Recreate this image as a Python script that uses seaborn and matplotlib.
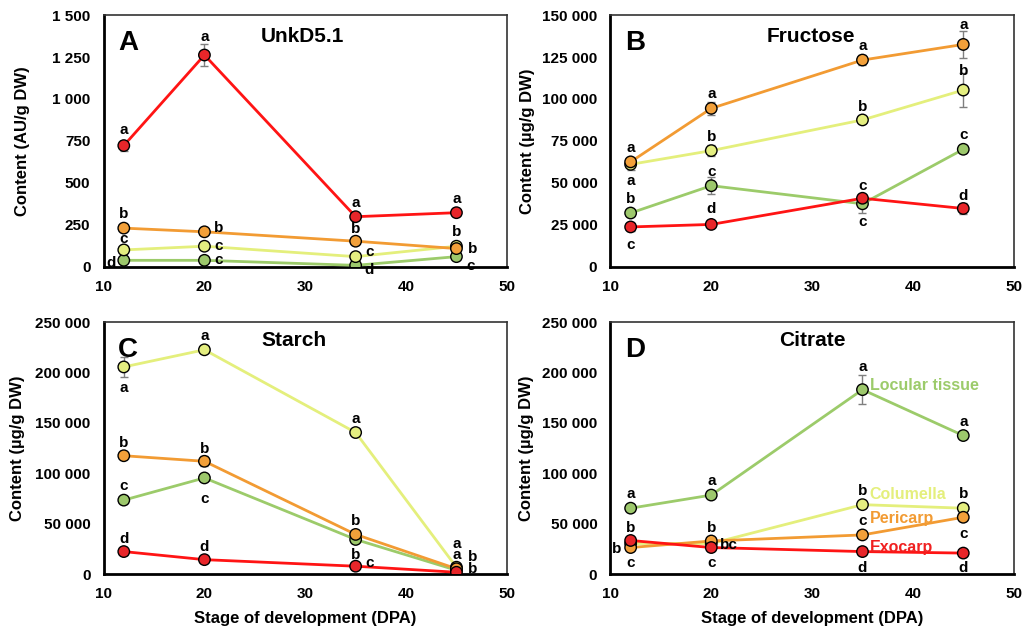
import matplotlib
matplotlib.use("Agg")
import matplotlib.pyplot as plt
import seaborn as sns
import pandas as pd

sns.set_theme(style="white")
plt.rcParams["font.family"] = ["Liberation Sans", "DejaVu Sans"]
plt.rcParams["font.weight"] = "bold"

# ---------------- data ----------------
dpa = [12, 20, 35, 45]
tissues = ["Locular tissue", "Columella", "Pericarp", "Exocarp"]

# A: UnkD5.1 (AU/g DW)
unk_locular = [38, 38, 8, 60]
unk_columella = [100, 122, 60, 122]
unk_pericarp = [230, 208, 152, 108]
unk_exocarp = [722, 1262, 298, 322]
unk_locular_err = [5, 5, 3, 8]
unk_columella_err = [8, 10, 15, 10]
unk_pericarp_err = [10, 10, 12, 10]
unk_exocarp_err = [30, 65, 10, 10]
unk_locular_let = ["d", "c", "d", "c"]
unk_columella_let = ["c", "c", "c", "b"]
unk_pericarp_let = ["b", "b", "b", "b"]
unk_exocarp_let = ["a", "a", "a", "a"]

# B: Fructose (µg/g DW)
fru_locular = [32000, 48300, 37500, 70000]
fru_columella = [61000, 69200, 87500, 105300]
fru_pericarp = [62500, 94400, 123200, 132500]
fru_exocarp = [23700, 25200, 40800, 34700]
fru_locular_err = [2000, 5000, 5500, 2500]
fru_columella_err = [3500, 3500, 2000, 10000]
fru_pericarp_err = [2000, 4000, 3000, 8000]
fru_exocarp_err = [2500, 1500, 2000, 3500]
fru_locular_let = ["b", "c", "c", "c"]
fru_columella_let = ["a", "b", "b", "b"]
fru_pericarp_let = ["a", "a", "a", "a"]
fru_exocarp_let = ["c", "d", "c", "d"]

# C: Starch (µg/g DW)
sta_locular = [73500, 95500, 34500, 4000]
sta_columella = [205500, 222500, 140500, 7000]
sta_pericarp = [117500, 112000, 39500, 5500]
sta_exocarp = [22500, 14500, 8000, 2000]
sta_locular_err = [3000, 3000, 3000, 1000]
sta_columella_err = [9500, 2500, 4500, 1000]
sta_pericarp_err = [2500, 5000, 3000, 1000]
sta_exocarp_err = [3000, 2500, 2000, 500]
sta_locular_let = ["c", "c", "b", "a"]
sta_columella_let = ["a", "a", "a", "a"]
sta_pericarp_let = ["b", "b", "b", "b"]
sta_exocarp_let = ["d", "d", "c", "b"]

# D: Citrate (µg/g DW)
cit_locular = [65500, 78500, 183000, 137500]
cit_columella = [30500, 30500, 69000, 65500]
cit_pericarp = [26500, 33000, 39000, 56500]
cit_exocarp = [33500, 26500, 22500, 21000]
cit_locular_err = [3000, 3000, 14500, 2500]
cit_columella_err = [2000, 2000, 3000, 2000]
cit_pericarp_err = [2000, 2500, 2500, 2500]
cit_exocarp_err = [2000, 2000, 2000, 2000]
cit_locular_let = ["a", "a", "a", "a"]
cit_columella_let = ["c", "bc", "b", "b"]
cit_pericarp_let = ["b", "b", "c", "c"]
cit_exocarp_let = ["b", "c", "d", "d"]

x_ticks = [10, 20, 30, 40, 50]
unk_ticks = [0, 250, 500, 750, 1000, 1250, 1500]
unk_ticklabels = ["0", "250", "500", "750", "1 000", "1 250", "1 500"]
fru_ticks = [0, 25000, 50000, 75000, 100000, 125000, 150000]
fru_ticklabels = ["0", "25 000", "50 000", "75 000", "100 000", "125 000", "150 000"]
big_ticks = [0, 50000, 100000, 150000, 200000, 250000]
big_ticklabels = ["0", "50 000", "100 000", "150 000", "200 000", "250 000"]

# ---------------- styles ----------------
line_colors = {"Locular tissue": "#9CCB6A", "Columella": "#E4EF7C",
               "Pericarp": "#F29B33", "Exocarp": "#FF1414"}
fill_colors = {"Locular tissue": "#9DC86C", "Columella": "#E4EE80",
               "Pericarp": "#F2A03A", "Exocarp": "#E8262A"}


def build(vals, errs, lets):
    rows = []
    for t, v, e, l in zip(tissues, vals, errs, lets):
        for x, yv, ev, lv in zip(dpa, v, e, l):
            rows.append({"DPA": x, "value": yv, "err": ev, "letter": lv, "tissue": t})
    return pd.DataFrame(rows)


panels = [
    dict(key="A", title="UnkD5.1", ylabel="Content (AU/g DW)",
         df=build([unk_locular, unk_columella, unk_pericarp, unk_exocarp],
                  [unk_locular_err, unk_columella_err, unk_pericarp_err, unk_exocarp_err],
                  [unk_locular_let, unk_columella_let, unk_pericarp_let, unk_exocarp_let]),
         yt=unk_ticks, ytl=unk_ticklabels, ylim=(0, 1500),
         rect=[0.101, 0.576, 0.393, 0.400], title_xy=(0.493, 0.915), letter_xy=(0.06, 0.89),
         ylab_x=-0.183,
         offs={"Locular tissue": [(-9, -2), (10, 0), (10, -3), (10, -7)],
               "Columella": [(0, 8), (10, 0), (10, 3), (0, 10)],
               "Pericarp": [(0, 10), (10, 3), (0, 9), (12, 0)],
               "Exocarp": [(0, 11), (0, 13), (0, 10), (0, 10)]},
         xlabel=False),
    dict(key="B", title="Fructose", ylabel="Content (µg/g DW)",
         df=build([fru_locular, fru_columella, fru_pericarp, fru_exocarp],
                  [fru_locular_err, fru_columella_err, fru_pericarp_err, fru_exocarp_err],
                  [fru_locular_let, fru_columella_let, fru_pericarp_let, fru_exocarp_let]),
         yt=fru_ticks, ytl=fru_ticklabels, ylim=(0, 150000),
         rect=[0.595, 0.576, 0.393, 0.400], title_xy=(0.496, 0.915), letter_xy=(0.06, 0.89),
         ylab_x=-0.186,
         offs={"Locular tissue": [(0, 10), (0, 10), (0, -13), (0, 10)],
               "Columella": [(0, -12), (0, 10), (0, 9), (0, 14)],
               "Pericarp": [(0, 10), (0, 10), (0, 10), (0, 14)],
               "Exocarp": [(0, -13), (0, 11), (0, 9), (0, 9)]},
         xlabel=False),
    dict(key="C", title="Starch", ylabel="Content (µg/g DW)",
         df=build([sta_locular, sta_columella, sta_pericarp, sta_exocarp],
                  [sta_locular_err, sta_columella_err, sta_pericarp_err, sta_exocarp_err],
                  [sta_locular_let, sta_columella_let, sta_pericarp_let, sta_exocarp_let]),
         yt=big_ticks, ytl=big_ticklabels, ylim=(0, 250000),
         rect=[0.101, 0.087, 0.393, 0.401], title_xy=(0.473, 0.925), letter_xy=(0.06, 0.89),
         ylab_x=-0.194,
         offs={"Locular tissue": [(0, 10), (0, -15), (0, -11), (0, 11)],
               "Columella": [(0, -15), (0, 10), (0, 10), (0, 17)],
               "Pericarp": [(0, 9), (0, 9), (0, 10), (12, 0)],
               "Exocarp": [(0, 9), (0, 9), (10, 2), (12, 11)]},
         xlabel=True),
    dict(key="D", title="Citrate", ylabel="Content (µg/g DW)",
         df=build([cit_locular, cit_columella, cit_pericarp, cit_exocarp],
                  [cit_locular_err, cit_columella_err, cit_pericarp_err, cit_exocarp_err],
                  [cit_locular_let, cit_columella_let, cit_pericarp_let, cit_exocarp_let]),
         yt=big_ticks, ytl=big_ticklabels, ylim=(0, 250000),
         rect=[0.595, 0.087, 0.393, 0.401], title_xy=(0.50, 0.925), letter_xy=(0.062, 0.89),
         ylab_x=-0.189,
         offs={"Locular tissue": [(0, 10), (0, 10), (0, 16), (0, 10)],
               "Columella": [(0, -14), (13, -1), (0, 10), (0, 10)],
               "Pericarp": [(-10, -1), (0, 9), (0, 10), (0, -12)],
               "Exocarp": [(0, 9), (0, -11), (0, -12), (0, -11)]},
         xlabel=True),
]

# series name labels in panel D
d_label_x = 35.7
d_label_y = {"Locular tissue": 187500, "Columella": 79500, "Pericarp": 54800, "Exocarp": 26300}
d_label_colors = {"Locular tissue": "#9CCB6A", "Columella": "#E4EF7C",
                  "Pericarp": "#F29B33", "Exocarp": "#F02020"}

fig = plt.figure(figsize=(10.26, 6.29), dpi=100)

for p in panels:
    ax = fig.add_axes(p["rect"])
    df = p["df"]
    for t in tissues:
        sub = df[df["tissue"] == t]
        ax.errorbar(sub["DPA"], sub["value"], yerr=sub["err"], fmt="none",
                    ecolor="#7f7f7f", elinewidth=1.0, capsize=3, capthick=1.0, zorder=2)
    sns.lineplot(data=df, x="DPA", y="value", hue="tissue", hue_order=tissues,
                 palette=line_colors, estimator=None, sort=False, linewidth=2.0,
                 legend=False, ax=ax, zorder=3)
    sns.scatterplot(data=df, x="DPA", y="value", hue="tissue", hue_order=tissues,
                    palette=fill_colors, s=68, edgecolor="black", linewidth=1.0,
                    legend=False, ax=ax, zorder=4)
    for t in tissues:
        sub = df[df["tissue"] == t].reset_index(drop=True)
        for i, r in sub.iterrows():
            ax.annotate(r["letter"], (r["DPA"], r["value"]), xytext=p["offs"][t][i],
                        textcoords="offset points", ha="center", va="center",
                        fontsize=11, fontweight="bold", color="black", zorder=5,
                        annotation_clip=False)

    ax.set_xlim(10, 50)
    ax.set_xticks(x_ticks)
    ax.set_xticklabels([str(v) for v in x_ticks])
    ax.set_ylim(*p["ylim"])
    ax.set_yticks(p["yt"])
    ax.set_yticklabels(p["ytl"])
    ax.tick_params(axis="both", direction="in", length=5, width=1.2, color="black",
                   labelsize=11, pad=9.5, labelcolor="black")
    for lab in ax.get_xticklabels() + ax.get_yticklabels():
        lab.set_fontweight("bold")
    for s in ["left", "bottom"]:
        ax.spines[s].set_linewidth(2.0)
        ax.spines[s].set_color("black")
    for s in ["top", "right"]:
        ax.spines[s].set_linewidth(1.2)
        ax.spines[s].set_color("#333333")
    ax.set_ylabel(p["ylabel"], fontsize=12, fontweight="bold", color="black")
    ax.yaxis.set_label_coords(p["ylab_x"], 0.5)
    if p["xlabel"]:
        ax.set_xlabel("Stage of development (DPA)", fontsize=12, fontweight="bold", color="black")
        ax.xaxis.set_label_coords(0.5, -0.147)
    else:
        ax.set_xlabel("")
    ax.text(p["title_xy"][0], p["title_xy"][1], p["title"], transform=ax.transAxes,
            ha="center", va="center", fontsize=15, fontweight="bold", color="black")
    ax.text(p["letter_xy"][0], p["letter_xy"][1], p["key"], transform=ax.transAxes,
            ha="center", va="center", fontsize=20, fontweight="bold", color="black")
    if p["key"] == "D":
        for t in tissues:
            ax.text(d_label_x, d_label_y[t], t, ha="left", va="center", fontsize=11.5,
                    fontweight="bold", color=d_label_colors[t], zorder=6)

fig.savefig("out.png", dpi=100)
